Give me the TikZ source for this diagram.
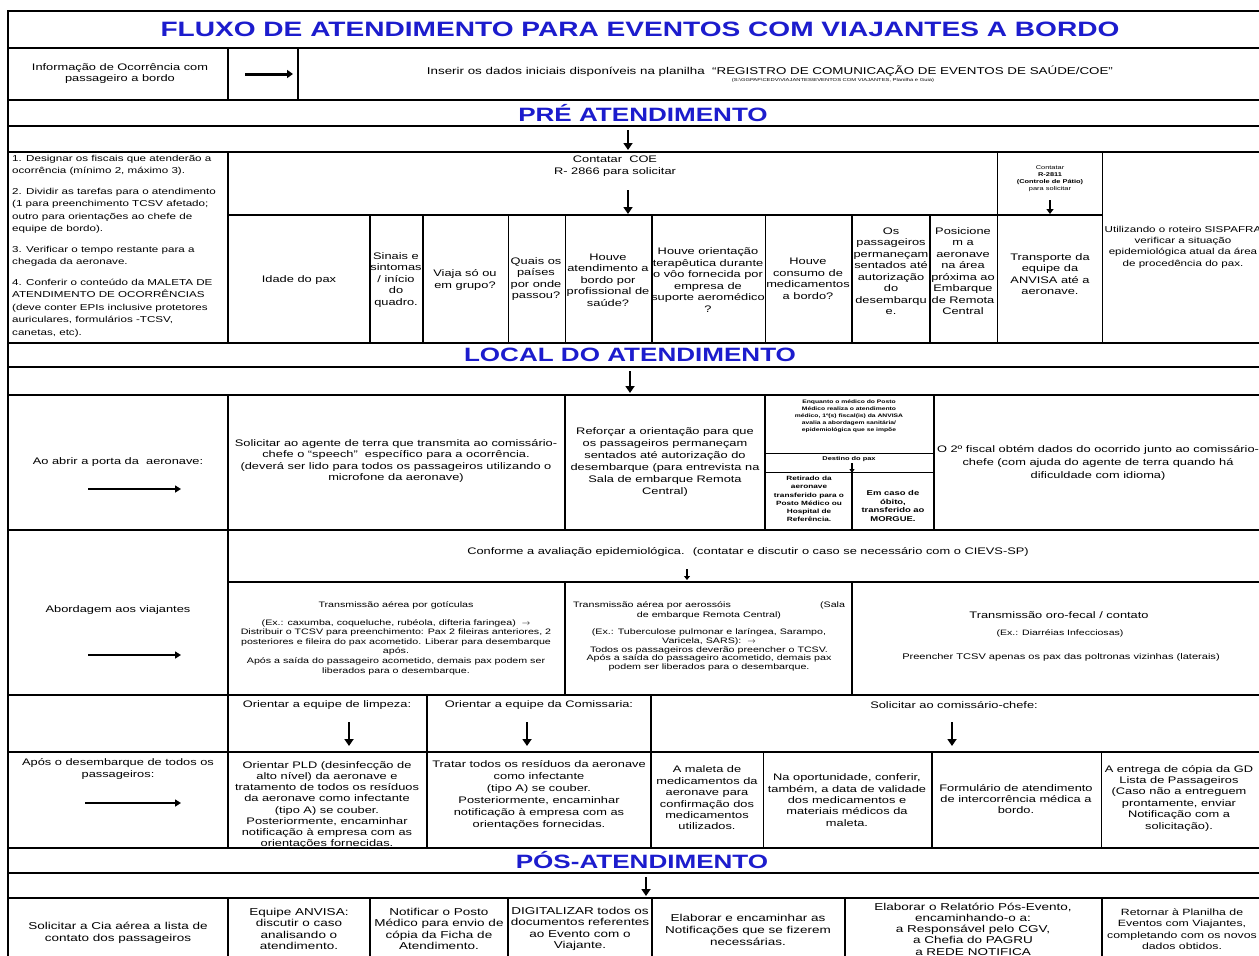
\documentclass[tikz,border=0pt]{standalone}
\usepackage{fontspec}
\setmainfont{Liberation Sans}[FakeStretch=1.35]
\usetikzlibrary{arrows.meta}
\definecolor{hblue}{RGB}{28,28,205}
\newcommand\fsz[2]{\fontsize{#1}{#2}\selectfont}
\begin{document}
\begin{tikzpicture}[x=1pt,y=-1pt,
 every node/.style={inner sep=0pt,align=center},
 tb/.style={font=\fsz{9.5}{11.5}},
 sec/.style={font=\fsz{19.3}{22}\bfseries,text=hblue},
 thk/.style={line width=2.2pt,line cap=rect},
 med/.style={line width=1.5pt,line cap=rect},
 thn/.style={line width=0.9pt,line cap=rect},
 darr/.style={line width=2.6pt,-{Triangle[length=7pt,width=9pt]}},
 harr/.style={line width=2.6pt,-{Triangle[length=6pt,width=7pt]}},
 sarr/.style={line width=1.4pt,-{Triangle[length=4pt,width=5pt]}},
]
\fill[white] (0,0) rectangle (1259,956);
\useasboundingbox (0,0) rectangle (1259,956);

% ---------- grid ----------
\draw[line width=2.6pt] (8,956) -- (8,11) -- (1262,11);
\foreach \y in {48,152,395,752} \draw[med] (8,\y) -- (1262,\y);
\foreach \y in {100,126,343,367,530,695,848,873,898} \draw[thk] (8,\y) -- (1262,\y);
\draw[med] (228,752) -- (1262,752);
% row 2
\draw[thk] (228,48) -- (228,100);
\draw[thk] (298,48) -- (298,100);
% pre-atendimento
\draw[thk] (228,152) -- (228,343);
\draw[thk] (228,215) -- (1102,215);
\draw[thn] (997,152) -- (997,343);
\draw[thn] (1102,152) -- (1102,343);
\foreach \x in {370,423,652,852,930} \draw[thk] (\x,215) -- (\x,343);
\foreach \x in {508,565,765} \draw[thn] (\x,215) -- (\x,343);
% local do atendimento
\draw[med] (228,395) -- (228,530);
\draw[med] (565,395) -- (565,530);
\draw[med] (765,395) -- (765,530);
\draw[med] (934,395) -- (934,530);
\draw[thn] (765,453) -- (934,453);
\draw[thn] (765,472) -- (934,472);
\draw[thk] (852,472) -- (852,530);
% abordagem
\draw[med] (228,530) -- (228,695);
\draw[thk] (228,582) -- (1262,582);
\draw[thk] (565,582) -- (565,695);
\draw[thk] (852,582) -- (852,695);
% apos desembarque
\draw[med] (228,695) -- (228,848);
\draw[thk] (427,695) -- (427,848);
\draw[thk] (651,695) -- (651,848);
\draw[thn] (763,752) -- (763,848);
\draw[thk] (932,752) -- (932,848);
\draw[thn] (1101,752) -- (1101,848);
% pos
\foreach \x in {228,370,508,652,845,1102} \draw[med] (\x,898) -- (\x,956);

% ---------- title / row 2 ----------
\node[font=\fsz{20.8}{24}\bfseries,text=hblue] (title) at (640,29) {FLUXO DE ATENDIMENTO PARA EVENTOS COM VIAJANTES A BORDO};
\node[tb,font=\fsz{9.5}{11}] (info) at (120,74) {Informação de Ocorrência com\\passageiro a bordo};
\coordinate (r2a) at (245,74); \coordinate (r2b) at (293,74);
\draw[line width=3pt,-{Triangle[length=6pt,width=8pt]}] (r2a) -- (r2b);
\node[tb,font=\fsz{9.9}{12}] (inserir) at (770,71) {Inserir os dados iniciais disponíveis na planilha \ ``REGISTRO DE COMUNICAÇÃO DE EVENTOS DE SAÚDE/COE''};
\node[font=\fsz{4.3}{5}] (sub) at (833,80) {(S:\textbackslash GGPAF\textbackslash CEDV\textbackslash VIAJANTES\textbackslash EVENTOS COM VIAJANTES, Planilha e Guia)};

% ---------- PRE ATENDIMENTO ----------
\node[sec] (pre) at (643,113) {PRÉ ATENDIMENTO};
\coordinate (a1s) at (628,130); \coordinate (a1e) at (628,150);
\draw[darr] (a1s) -- (a1e);
\node[font=\fsz{8.6}{12.5},align=left,anchor=north west] (prel) at (12,155) {1. Designar os fiscais que atenderão a\\ocorrência (mínimo 2, máximo 3).\\[8pt]2. Dividir as tarefas para o atendimento\\(1 para preenchimento TCSV afetado;\\outro para orientações ao chefe de\\equipe de bordo).\\[8pt]3. Verificar o tempo restante para a\\chegada da aeronave.\\[8pt]4. Conferir o conteúdo da MALETA DE\\ATENDIMENTO DE OCORRÊNCIAS\\(deve conter EPIs inclusive protetores\\auriculares, formulários -TCSV,\\canetas, etc).};
\node[tb] (coe) at (615,166) {Contatar \ COE\\R- 2866 para solicitar};
\coordinate (a2s) at (628,190); \coordinate (a2e) at (628,214);
\draw[darr] (a2s) -- (a2e);
\node[font=\fsz{5.5}{7}] (c2811) at (1050,179) {Contatar\\\textbf{R-2811}\\\textbf{(Controle de Pátio)}\\para solicitar};
\coordinate (a3s) at (1050,200); \coordinate (a3e) at (1050,214);
\draw[line width=2.2pt,-{Triangle[length=5pt,width=7pt]}] (a3s) -- (a3e);
\node[tb] (idade) at (299,280) {Idade do pax};
\node[tb] (sinais) at (396,280) {Sinais e\\sintomas\\/ início\\do\\quadro.};
\node[tb] (viaja) at (465,280) {Viaja só ou\\em grupo?};
\node[tb] (quais) at (536,279) {Quais os\\países\\por onde\\passou?};
\node[tb] (houve1) at (608,280) {Houve\\atendimento a\\bordo por\\profissional de\\saúde?};
\node[tb] (houve2) at (708,280) {Houve orientação\\terapêutica durante\\o vôo fornecida por\\empresa de\\suporte aeromédico\\?};
\node[tb] (houve3) at (808,279) {Houve\\consumo de\\medicamentos\\a bordo?};
\node[tb] (ospass) at (891,271) {Os\\passageiros\\permaneçam\\sentados até\\autorização\\do\\desembarqu\\e.};
\node[tb] (posic) at (963,271) {Posicione\\m a\\aeronave\\na área\\próxima ao\\Embarque\\de Remota\\Central};
\node[tb] (transp) at (1050,274) {Transporte da\\equipe da\\ANVISA até a\\aeronave.};
\node[font=\fsz{8.6}{11.3}] (sispa) at (1183,247) {Utilizando o roteiro SISPAFRA\\verificar a situação\\epidemiológica atual da área\\de procedência do pax.};

% ---------- LOCAL DO ATENDIMENTO ----------
\node[sec] (local) at (630,355) {LOCAL DO ATENDIMENTO};
\coordinate (a4s) at (630,371); \coordinate (a4e) at (630,393);
\draw[darr] (a4s) -- (a4e);
\node[tb] (abrir) at (118,462) {Ao abrir a porta da \ aeronave:};
\coordinate (h1s) at (88,489); \coordinate (h1e) at (181,489);
\draw[harr] (h1s) -- (h1e);
\node[tb] (solic) at (396,461) {Solicitar ao agente de terra que transmita ao comissário-\\chefe o ``speech'' \ específico para a ocorrência.\\(deverá ser lido para todos os passageiros utilizando o\\microfone da aeronave)};
\node[tb,font=\fsz{9.5}{12}] (reforc) at (665,462) {Reforçar a orientação para que\\os passageiros permaneçam\\sentados até autorização do\\desembarque (para entrevista na\\Sala de embarque Remota\\Central)};
\node[font=\fsz{5}{7}\bfseries] (enq) at (849,416) {Enquanto o médico do Posto\\Médico realiza o atendimento\\médico, 1º(s) fiscal(is) da ANVISA\\avalia a abordagem sanitária/\\epidemiológica que se impõe};
\node[font=\fsz{5.5}{6}\bfseries] (dest) at (849,459) {Destino do pax};
\coordinate (a5s) at (852,463); \coordinate (a5e) at (852,473);
\draw[sarr] (a5s) -- (a5e);
\node[font=\fsz{6.1}{8.3}\bfseries] (retir) at (809,499) {Retirado da\\aeronave\\transferido para o\\Posto Médico ou\\Hospital de\\Referência.};
\node[font=\fsz{7}{8.6}\bfseries] (obito) at (893,506) {Em caso de\\óbito,\\transferido ao\\MORGUE.};
\node[tb,font=\fsz{9.5}{13}] (fiscal2) at (1098,463) {O 2º fiscal obtém dados do ocorrido junto ao comissário-\\chefe (com ajuda do agente de terra quando há\\dificuldade com idioma)};

% ---------- ABORDAGEM ----------
\node[tb] (abord) at (118,610) {Abordagem aos viajantes};
\coordinate (h2s) at (88,655); \coordinate (h2e) at (181,655);
\draw[harr] (h2s) -- (h2e);
\node[tb] (conforme) at (748,552) {Conforme a avaliação epidemiológica. \ (contatar e discutir o caso se necessário com o CIEVS-SP)};
\coordinate (a6s) at (687,569); \coordinate (a6e) at (687,580);
\draw[line width=1.8pt,-{Triangle[length=4pt,width=6pt]}] (a6s) -- (a6e);
\node[font=\fsz{7.9}{9.6}] (t1h) at (396,605) {Transmissão aérea por gotículas};
\node[font=\fsz{7.9}{9.6}] (t1) at (396,647) {(Ex.: caxumba, coqueluche, rubéola, difteria faringea) \ $\rightarrow$\\Distribuir o TCSV para preenchimento: Pax 2 fileiras anteriores, 2\\posteriores e fileira do pax acometido. Liberar para desembarque\\após.\\Após a saída do passageiro acometido, demais pax podem ser\\liberados para o desembarque.};
\node[font=\fsz{7.9}{10}] (t2h) at (709,610) {\makebox[272pt]{Transmissão aérea por aerossóis\hfill(Sala}\\de embarque Remota Central)};
\node[font=\fsz{7.9}{8.8}] (t2) at (709,650) {(Ex.: Tuberculose pulmonar e laríngea, Sarampo,\\Varicela, SARS): \ $\rightarrow$\\Todos os passageiros deverão preencher o TCSV.\\Após a saída do passageiro acometido, demais pax\\podem ser liberados para o desembarque.};
\node[tb] (t3h) at (1059,615) {Transmissão oro-fecal / contato};
\node[font=\fsz{7.8}{9}] (t3e) at (1060,633) {(Ex.: Diarréias Infecciosas)};
\node[font=\fsz{8.2}{9}] (t3p) at (1061,657) {Preencher TCSV apenas os pax das poltronas vizinhas (laterais)};

% ---------- APOS DESEMBARQUE ----------
\node[tb,font=\fsz{9.5}{12}] (apos) at (118,769) {Após o desembarque de todos os\\passageiros:};
\coordinate (h3s) at (85,803); \coordinate (h3e) at (181,803);
\draw[harr] (h3s) -- (h3e);
\node[tb] (limph) at (327,705) {Orientar a equipe de limpeza:};
\node[tb] (comh) at (539,705) {Orientar a equipe da Comissaria:};
\node[tb] (solch) at (954,705) {Solicitar ao comissário-chefe:};
\coordinate (a7s) at (349,722); \coordinate (a7e) at (349,746);
\coordinate (a8s) at (527,722); \coordinate (a8e) at (527,746);
\coordinate (a9s) at (952,722); \coordinate (a9e) at (952,746);
\draw[darr] (a7s) -- (a7e);
\draw[darr] (a8s) -- (a8e);
\draw[darr] (a9s) -- (a9e);
\node[tb,font=\fsz{9.5}{11.2}] (limp) at (327,805) {Orientar PLD (desinfecção de\\alto nível) da aeronave e\\tratamento de todos os resíduos\\da aeronave como infectante\\(tipo A) se couber.\\Posteriormente, encaminhar\\notificação à empresa com as\\orientações fornecidas.};
\node[tb,font=\fsz{9.5}{12}] (comis) at (539,795) {Tratar todos os resíduos da aeronave\\como infectante\\(tipo A) se couber.\\Posteriormente, encaminhar\\notificação à empresa com as\\orientações fornecidas.};
\node[tb,font=\fsz{9.5}{11.4}] (maleta) at (707,798) {A maleta de\\medicamentos da\\aeronave para\\confirmação dos\\medicamentos\\utilizados.};
\node[tb,font=\fsz{9.5}{11.3}] (oport) at (847,800) {Na oportunidade, conferir,\\também, a data de validade\\dos medicamentos e\\materiais médicos da\\maleta.};
\node[tb,font=\fsz{9.5}{11}] (formul) at (1016,799) {Formulário de atendimento\\de intercorrência médica a\\bordo.};
\node[tb,font=\fsz{9.5}{11.4}] (entrega) at (1179,798) {A entrega de cópia da GD\\Lista de Passageiros\\(Caso não a entreguem\\prontamente, enviar\\Notificação com a\\solicitação).};

% ---------- POS-ATENDIMENTO ----------
\node[sec] (pos) at (642,860) {PÓS-ATENDIMENTO};
\coordinate (a10s) at (646,877); \coordinate (a10e) at (646,896);
\draw[darr] (a10s) -- (a10e);
\node[tb,font=\fsz{10}{12}] (cia) at (118,933) {Solicitar a Cia aérea a lista de\\contato dos passageiros};
\node[tb,font=\fsz{10}{11.5}] (equipe) at (299,929) {Equipe ANVISA:\\discutir o caso\\analisando o\\atendimento.};
\node[tb,font=\fsz{10}{11.5}] (notif) at (439,929) {Notificar o Posto\\Médico para envio de\\cópia da Ficha de\\Atendimento.};
\node[tb,font=\fsz{10}{11.5}] (digit) at (580,929) {DIGITALIZAR todos os\\documentos referentes\\ao Evento com o\\Viajante.};
\node[tb,font=\fsz{10}{12}] (elab1) at (748,930) {Elaborar e encaminhar as\\Notificações que se fizerem\\necessárias.};
\node[tb,font=\fsz{10}{11.3}] (elab2) at (973,929) {Elaborar o Relatório Pós-Evento,\\encaminhando-o a:\\a Responsável pelo CGV,\\a Chefia do PAGRU\\a REDE NOTIFICA};
\node[tb,font=\fsz{9.1}{11.5}] (retorn) at (1182,929) {Retornar à Planilha de\\Eventos com Viajantes,\\completando com os novos\\dados obtidos.};
\end{tikzpicture}
\end{document}
